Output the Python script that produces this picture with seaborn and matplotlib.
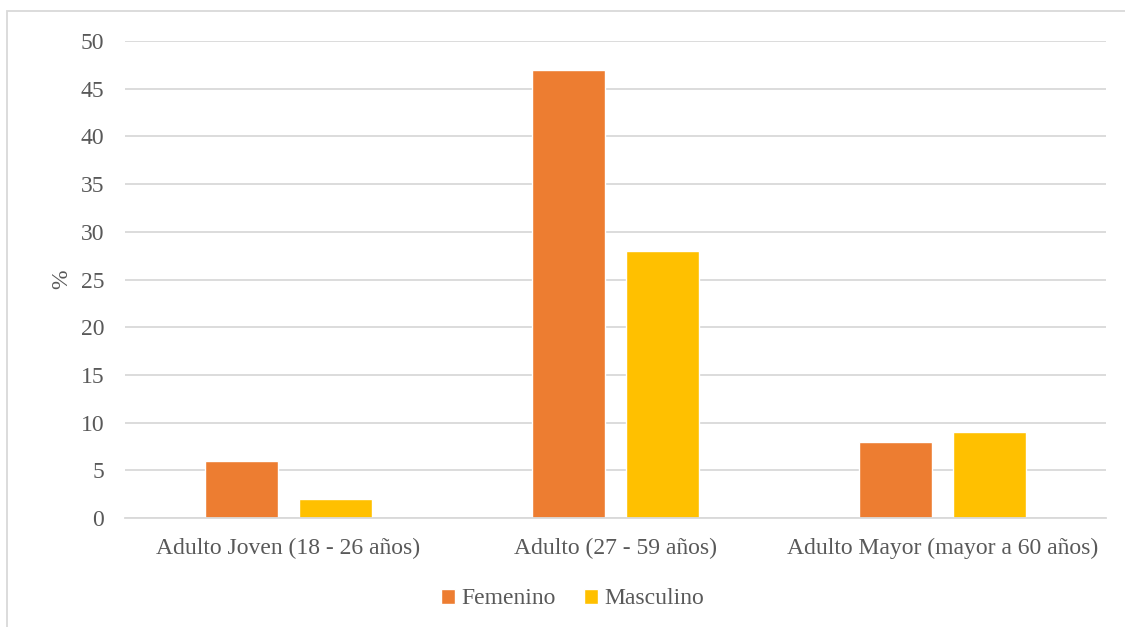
import matplotlib
matplotlib.use("Agg")
import matplotlib.pyplot as plt
import seaborn as sns
import pandas as pd
from matplotlib.patches import Rectangle, Patch

categories = ["Adulto Joven (18 - 26 años)", "Adulto (27 - 59 años)", "Adulto Mayor (mayor a 60 años)"]
femenino = [6, 47, 8]
masculino = [2, 28, 9]
series = ["Femenino", "Masculino"]
colors = ["#ED7D31", "#FFC000"]
yticks = [0, 5, 10, 15, 20, 25, 30, 35, 40, 45, 50]

df = pd.DataFrame({
    "cat": categories * 2,
    "val": femenino + masculino,
    "sexo": [series[0]] * 3 + [series[1]] * 3,
})

sns.set_theme(style="white")
plt.rcParams["font.family"] = ["Liberation Serif", "DejaVu Serif"]
txt = "#595959"
fs = 17

fig = plt.figure(figsize=(11.25, 6.27), dpi=100)
ax = fig.add_axes([125/1125, 1-518/627, (1106-125)/1125, (518-41)/627])

sns.barplot(data=df, x="cat", y="val", hue="sexo", palette=colors, order=categories,
            hue_order=series, width=0.569, gap=0.215, ax=ax, legend=False, saturation=1)

ax.set_ylim(0, 50)
ax.set_xlim(-0.5, 2.5)
ax.set_yticks(yticks)
ax.yaxis.grid(True, color="#D9D9D9", linewidth=1.3)
ax.set_axisbelow(True)
for s in ["top", "right", "left"]:
    ax.spines[s].set_visible(False)
ax.spines["bottom"].set_color("#D9D9D9")
ax.spines["bottom"].set_linewidth(1.3)
ax.tick_params(axis="both", length=0, labelsize=fs, labelcolor=txt)
ax.tick_params(axis="y", pad=15)
ax.tick_params(axis="x", pad=14)
ax.set_xlabel("")
ax.set_ylabel("%", fontsize=fs, color=txt, labelpad=6)

handles = [Patch(facecolor=c, label=l) for c, l in zip(colors, series)]
fig.legend(handles=handles, loc="center", bbox_to_anchor=(0.509, 1-599/627), ncol=2,
           frameon=False, fontsize=fs, labelcolor=txt, handlelength=0.6, handleheight=0.6,
           handletextpad=0.25, columnspacing=1.2)

fig.patches.append(Rectangle((7/1125, -0.1), 1.2, 1-11/627+0.1, transform=fig.transFigure,
                             fill=False, edgecolor="#D9D9D9", linewidth=1.3))

fig.savefig("out.png", dpi=100)
